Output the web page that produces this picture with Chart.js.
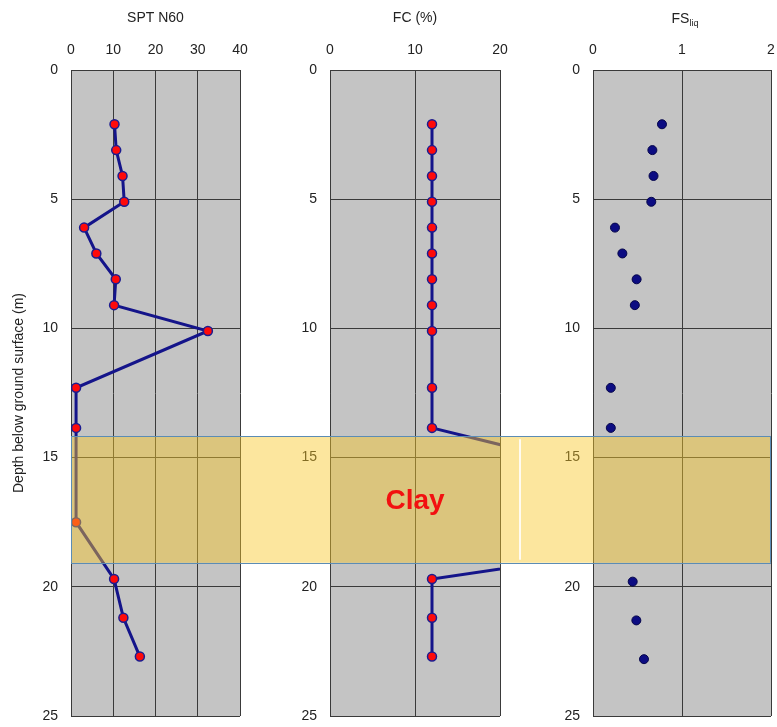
<!DOCTYPE html>
<html>
<head>
<meta charset="utf-8">
<script src="https://cdn.jsdelivr.net/npm/chart.js@4.4.1/dist/chart.umd.min.js"></script>
<style>
html, body { margin: 0; padding: 0; background: #fff; }
#wrap { position: relative; width: 777px; height: 727px; }
#wrap canvas { position: absolute; top: 0; }
</style>
</head>
<body>
<div id="wrap">
  <canvas id="spt" width="270" height="727" style="left:0px;width:270px;height:727px"></canvas>
  <canvas id="fc" width="270" height="727" style="left:270px;width:270px;height:727px"></canvas>
  <canvas id="fs" width="237" height="727" style="left:540px;width:237px;height:727px"></canvas>
</div>
<script>
// depths (m) of the SPT samples
var depths = [2.1, 3.1, 4.1, 5.1, 6.1, 7.1, 8.1, 9.1, 10.1, 12.3, 13.85, 17.5, 19.7, 21.2, 22.7];
var sptN60 = [10.3, 10.7, 12.2, 12.6, 3.1, 6.0, 10.6, 10.2, 32.4, 1.2, 1.2, 1.2, 10.2, 12.4, 16.3];
var finesContent = [12, 12, 12, 12, 12, 12, 12, 12, 12, 12, 12, 57, 12, 12, 12];

// factor of safety against liquefaction
var fsDepths = [2.1, 3.1, 4.1, 5.1, 6.1, 7.1, 8.1, 9.1, 12.3, 13.85, 19.8, 21.3, 22.8];
var fsLiq = [0.775, 0.667, 0.68, 0.655, 0.247, 0.33, 0.49, 0.47, 0.2, 0.2, 0.446, 0.487, 0.573];

// clay layer
var clayTop = 14.17;
var clayBottom = 19.07;
var clayLabel = 'Clay';

var depthTicks = [0, 5, 10, 15, 20, 25];

Chart.defaults.font.family = '"Liberation Sans", Arial, sans-serif';
Chart.defaults.font.size = 14;
Chart.defaults.color = '#222';

var GRID = '#3a3a3a';

function pts(xs, ys) {
    return xs.map(function (v, i) { return { x: v, y: ys[i] }; });
}

var bgPlugin = {
    id: 'panelBg',
    beforeDraw: function (chart) {
        var a = chart.chartArea, ctx = chart.ctx;
        ctx.save();
        ctx.fillStyle = '#c4c4c4';
        ctx.fillRect(a.left, a.top, a.right - a.left, a.bottom - a.top);
        ctx.restore();
    }
};

var bandPlugin = {
    id: 'clayBand',
    afterDraw: function (chart, args, opts) {
        var a = chart.chartArea, ctx = chart.ctx, y = chart.scales.y;
        var y1 = y.getPixelForValue(clayTop), y2 = y.getPixelForValue(clayBottom);
        var x1 = opts.fromArea ? a.left : 0;
        var x2 = opts.toArea ? a.right : chart.width;
        ctx.save();
        ctx.fillStyle = 'rgba(248, 199, 41, 0.45)';
        ctx.fillRect(x1, y1, x2 - x1, y2 - y1);
        ctx.strokeStyle = '#5b8cb5';
        ctx.lineWidth = 1;
        ctx.beginPath();
        ctx.moveTo(x1, Math.round(y1) + 0.5); ctx.lineTo(x2, Math.round(y1) + 0.5);
        ctx.moveTo(x1, Math.round(y2) + 0.5); ctx.lineTo(x2, Math.round(y2) + 0.5);
        if (opts.fromArea) { ctx.moveTo(x1 + 0.5, y1); ctx.lineTo(x1 + 0.5, y2); }
        if (opts.toArea) { ctx.moveTo(x2 - 0.5, y1); ctx.lineTo(x2 - 0.5, y2); }
        ctx.stroke();
        if (opts.label) {
            var cx = (a.left + a.right) / 2;
            ctx.fillStyle = '#f21010';
            ctx.font = 'bold 28px "Liberation Sans", Arial, sans-serif';
            ctx.textAlign = 'center';
            ctx.textBaseline = 'middle';
            ctx.fillText(clayLabel, cx, y.getPixelForValue((clayTop + clayBottom) / 2) + 2);
            // light streak just right of the panel
            ctx.strokeStyle = 'rgba(255,255,255,0.85)';
            ctx.lineWidth = 2;
            ctx.beginPath();
            ctx.moveTo(a.right + 20, y1 + 3);
            ctx.lineTo(a.right + 20, y2 - 3);
            ctx.stroke();
        }
        ctx.restore();
    }
};

var subTitlePlugin = {
    id: 'subTitle',
    afterDraw: function (chart, args, opts) {
        if (!opts.main) return;
        var a = chart.chartArea, ctx = chart.ctx;
        ctx.save();
        ctx.fillStyle = '#222';
        ctx.textBaseline = 'alphabetic';
        ctx.textAlign = 'left';
        ctx.font = '14px "Liberation Sans", Arial, sans-serif';
        var w1 = ctx.measureText(opts.main).width;
        ctx.font = '9px "Liberation Sans", Arial, sans-serif';
        var w2 = ctx.measureText(opts.sub).width;
        var x = (a.left + a.right) / 2 - (w1 + w2) / 2 + 3;
        ctx.font = '14px "Liberation Sans", Arial, sans-serif';
        ctx.fillText(opts.main, x, 23);
        ctx.font = '9px "Liberation Sans", Arial, sans-serif';
        ctx.fillText(opts.sub, x + w1, 26);
        ctx.restore();
    }
};

function makePanel(id, cfg) {
    var ctx = document.getElementById(id).getContext('2d');
    return new Chart(ctx, {
        type: 'scatter',
        data: { datasets: cfg.datasets },
        options: {
            responsive: false,
            animation: false,
            layout: { padding: { left: 0, right: cfg.padRight, top: 0, bottom: 11 } },
            plugins: {
                legend: { display: false },
                tooltip: { enabled: false },
                clayBand: cfg.band,
                subTitle: cfg.subTitle || {}
            },
            scales: {
                x: {
                    type: 'linear',
                    position: 'top',
                    min: cfg.xMin, max: cfg.xMax,
                    ticks: { stepSize: cfg.xStep, padding: 11, color: '#222' },
                    grid: { color: GRID, lineWidth: 1, drawTicks: false },
                    border: { color: GRID },
                    title: {
                        display: !!cfg.xTitle,
                        text: cfg.xTitle || '',
                        padding: { top: 10, bottom: 0 },
                        color: '#222'
                    },
                    afterFit: function (s) {
                        s.height = 70;
                        s.paddingLeft = 0;
                        s.paddingRight = 0;
                    }
                },
                y: {
                    type: 'linear',
                    reverse: true,
                    min: 0, max: 25,
                    afterBuildTicks: function (s) {
                        s.ticks = depthTicks.map(function (v) { return { value: v }; });
                    },
                    ticks: { padding: 13, color: '#222' },
                    grid: { color: GRID, lineWidth: 1, drawTicks: false },
                    border: { color: GRID },
                    title: {
                        display: !!cfg.yTitle,
                        text: cfg.yTitle || '',
                        padding: { top: 11, bottom: 0 },
                        color: '#222'
                    },
                    afterFit: function (s) {
                        s.width = cfg.yWidth;
                        s.paddingTop = 0;
                        s.paddingBottom = 0;
                    }
                }
            }
        },
        plugins: [bgPlugin, bandPlugin, subTitlePlugin]
    });
}

var redPoints = {
    showLine: true,
    borderColor: '#14148a',
    borderWidth: 3,
    pointRadius: 4.5,
    pointBackgroundColor: '#ff0a0a',
    pointBorderColor: '#1c1c90',
    pointBorderWidth: 1.5,
    clip: 0
};

makePanel('spt', {
    datasets: [Object.assign({ data: pts(sptN60, depths) }, redPoints)],
    xMin: 0, xMax: 40, xStep: 10,
    xTitle: 'SPT N60',
    yTitle: 'Depth below ground surface (m)',
    yWidth: 71, padRight: 30,
    band: { fromArea: true, toArea: false }
});

makePanel('fc', {
    datasets: [Object.assign({ data: pts(finesContent, depths) }, redPoints)],
    xMin: 0, xMax: 20, xStep: 10,
    xTitle: 'FC (%)',
    yWidth: 60, padRight: 40,
    band: { fromArea: false, toArea: false, label: true }
});

makePanel('fs', {
    datasets: [{
        data: pts(fsLiq, fsDepths),
        showLine: false,
        pointRadius: 4.5,
        pointBackgroundColor: '#0c0c82',
        pointBorderColor: '#05054a',
        pointBorderWidth: 1,
        clip: 0
    }],
    xMin: 0, xMax: 2, xStep: 1,
    yWidth: 53, padRight: 6,
    band: { fromArea: false, toArea: true },
    subTitle: { main: 'FS', sub: 'liq' }
});
</script>
</body>
</html>
